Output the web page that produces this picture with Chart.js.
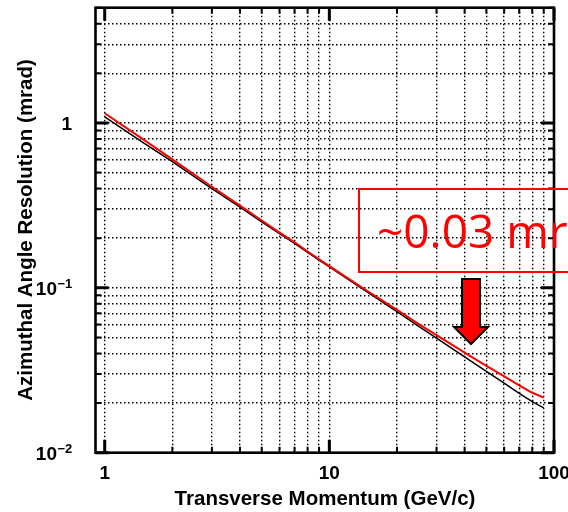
<!DOCTYPE html>
<html>
<head>
<meta charset="utf-8">
<script src="https://cdn.jsdelivr.net/npm/chart.js@4.4.1/dist/chart.umd.min.js"></script>
<style>
  html, body { margin: 0; padding: 0; background: #fff; }
  canvas { display: block; }
</style>
</head>
<body>
<canvas id="resChart" width="568" height="512"></canvas>
<script>
// transverse momentum (GeV/c)
const momentum = [1, 1.5, 2, 3, 4, 5, 6, 7, 8, 9, 10, 15, 20, 25, 30, 40, 50, 60, 70, 80, 90];
// azimuthal angle resolution (mrad), two configurations
const resBlack = [1.09, 0.752, 0.583, 0.400, 0.309, 0.251, 0.213, 0.186, 0.164, 0.147, 0.134, 0.0930, 0.0718, 0.0584, 0.0495, 0.0381, 0.0311, 0.0264, 0.0229, 0.0204, 0.0187];
const resRed = [1.145, 0.787, 0.601, 0.410, 0.315, 0.256, 0.216, 0.189, 0.166, 0.149, 0.1355, 0.0943, 0.0735, 0.0603, 0.0516, 0.0404, 0.0336, 0.0290, 0.0256, 0.0231, 0.0216];

const xTickValues = [1, 2, 3, 4, 5, 6, 7, 8, 9, 10, 20, 30, 40, 50, 60, 70, 80, 90, 100];
const xLabels = [['1', 1], ['10', 10], ['100', 100]];
const yTickValues = [0.01, 0.02, 0.03, 0.04, 0.05, 0.06, 0.07, 0.08, 0.09,
  0.1, 0.2, 0.3, 0.4, 0.5, 0.6, 0.7, 0.8, 0.9, 1, 2, 3, 4, 5];
const yLabels = [['1', '', 1], ['10', '\u22121', 0.1], ['10', '\u22122', 0.01]];
const xMajor = [1, 10, 100];
const yMajor = [0.01, 0.1, 1];

const annotationText = '~0.03 mr';

const toPoints = (xs, ys) => xs.map((x, i) => ({ x: x, y: ys[i] }));

const rootFrame = {
  id: 'rootFrame',
  afterDraw(chart) {
    const { ctx, chartArea: a, scales: { x, y } } = chart;
    ctx.save();
    ctx.strokeStyle = '#000';
    ctx.lineCap = 'butt';

    // inward ticks on all four sides
    xTickValues.forEach(v => {
      const px = x.getPixelForValue(v);
      const major = xMajor.includes(v);
      const len = major ? 13 : 6;
      ctx.lineWidth = major ? 3 : 2;
      ctx.beginPath();
      ctx.moveTo(px, a.bottom); ctx.lineTo(px, a.bottom - len);
      ctx.moveTo(px, a.top); ctx.lineTo(px, a.top + len);
      ctx.stroke();
    });
    yTickValues.forEach(v => {
      const py = y.getPixelForValue(v);
      const major = yMajor.includes(v);
      const len = major ? 13 : 6;
      ctx.lineWidth = major ? 3 : 2;
      ctx.beginPath();
      ctx.moveTo(a.left, py); ctx.lineTo(a.left + len, py);
      ctx.moveTo(a.right, py); ctx.lineTo(a.right - len, py);
      ctx.stroke();
    });

    ctx.lineWidth = 2.6;
    ctx.strokeRect(a.left, a.top, a.right - a.left, a.bottom - a.top);

    // tick labels
    ctx.fillStyle = '#000';
    ctx.font = 'bold 19px "Liberation Sans", Arial, sans-serif';
    ctx.textAlign = 'center';
    ctx.textBaseline = 'alphabetic';
    xLabels.forEach(([txt, v]) => {
      ctx.fillText(txt, x.getPixelForValue(v), 479);
    });
    yLabels.forEach(([base, exp, v]) => {
      const py = y.getPixelForValue(v);
      ctx.font = 'bold 19px "Liberation Sans", Arial, sans-serif';
      if (exp) {
        ctx.textAlign = 'right';
        ctx.fillText(base, 57, py + 7.5);
        ctx.font = 'bold 13px "Liberation Sans", Arial, sans-serif';
        ctx.textAlign = 'left';
        ctx.fillText(exp, 57.5, py + 0.5);
      } else {
        ctx.textAlign = 'right';
        ctx.fillText(base, 72, py + 7.5);
      }
    });

    // axis titles
    ctx.font = 'bold 20.5px "Liberation Sans", Arial, sans-serif';
    ctx.textAlign = 'center';
    ctx.fillText('Transverse Momentum (GeV/c)', 325, 505);
    ctx.save();
    ctx.translate(32, 230);
    ctx.rotate(-Math.PI / 2);
    ctx.font = 'bold 20.5px "Liberation Sans", Arial, sans-serif';
    ctx.fillText('Azimuthal Angle Resolution (mrad)', 0, 0);
    ctx.restore();

    // callout box and label
    ctx.strokeStyle = '#ff0000';
    ctx.lineWidth = 2;
    ctx.strokeRect(359, 189, 260, 83);
    ctx.fillStyle = '#ff0000';
    ctx.font = '46px "Open Sans", "Noto Sans", sans-serif';
    ctx.textAlign = 'left';
    ctx.fillText(annotationText, 377, 248);

    // down arrow
    ctx.beginPath();
    ctx.moveTo(462, 279);
    ctx.lineTo(480, 279);
    ctx.lineTo(480, 327);
    ctx.lineTo(488, 327);
    ctx.lineTo(471, 344);
    ctx.lineTo(454, 327);
    ctx.lineTo(462, 327);
    ctx.closePath();
    ctx.fillStyle = '#ff0000';
    ctx.fill();
    ctx.strokeStyle = '#000';
    ctx.lineWidth = 2;
    ctx.lineJoin = 'miter';
    ctx.stroke();

    ctx.restore();
  }
};

new Chart(document.getElementById('resChart'), {
  type: 'line',
  data: {
    datasets: [{
      data: toPoints(momentum, resBlack),
      borderColor: '#000',
      borderWidth: 1.5,
      pointRadius: 0,
      tension: 0,
      order: 2
    }, {
      data: toPoints(momentum, resRed),
      borderColor: '#ff0000',
      borderWidth: 2,
      pointRadius: 0,
      tension: 0,
      order: 1
    }]
  },
  options: {
    responsive: false,
    animation: false,
    layout: { padding: { left: 95.5, right: 14, top: 7.7, bottom: 59.3 } },
    plugins: { legend: { display: false }, tooltip: { enabled: false } },
    scales: {
      x: {
        type: 'logarithmic',
        min: 0.91,
        max: 100,
        afterBuildTicks: scale => { scale.ticks = xTickValues.map(v => ({ value: v })); },
        ticks: { display: false },
        grid: { color: '#000', lineWidth: 1.4, drawTicks: false },
        border: { display: false, dash: [1.5, 2.5] }
      },
      y: {
        type: 'logarithmic',
        min: 0.01,
        max: 5,
        afterBuildTicks: scale => { scale.ticks = yTickValues.map(v => ({ value: v })); },
        ticks: { display: false },
        grid: { color: '#000', lineWidth: 1.4, drawTicks: false },
        border: { display: false, dash: [1.5, 2.5] }
      }
    }
  },
  plugins: [rootFrame]
});
</script>
</body>
</html>
